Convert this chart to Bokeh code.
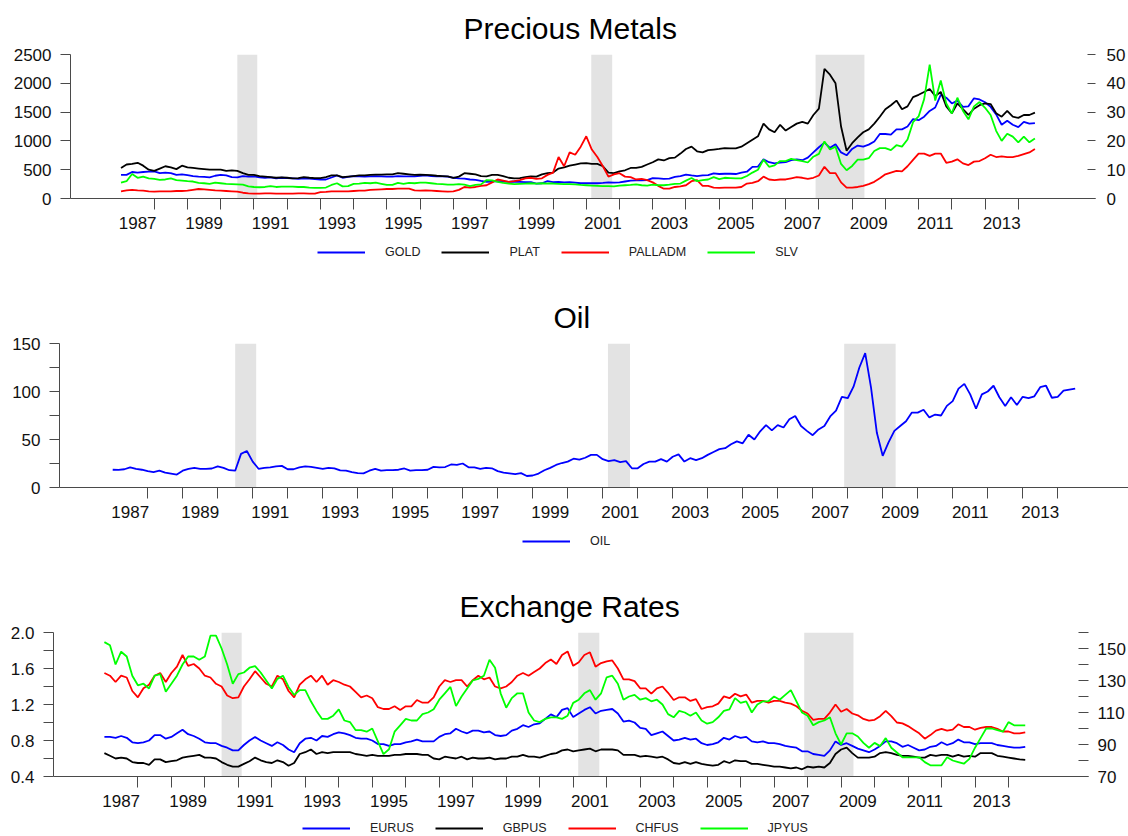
import numpy as np
from bokeh.plotting import figure
from bokeh.models import (Range1d, LinearAxis, FixedTicker, Legend, LegendItem,
                          BoxAnnotation, NumeralTickFormatter)
from bokeh.layouts import column
from bokeh.embed import file_html
from bokeh.resources import INLINE

# ---------------- data (bi-monthly: Jan, Mar, May, Jul, Sep, Nov; 1987 .. Jul 2014) ----------------
t = 1987 + np.arange(166) / 6.0

gold = [
    410, 410, 460, 450, 460, 465,   470, 440, 450, 440, 410, 420,   405, 390, 380, 375, 365, 395,
    410, 400, 370, 365, 390, 380,   385, 365, 360, 365, 350, 360,   355, 350, 340, 350, 345, 335,
    330, 330, 365, 400, 360, 375,   390, 385, 380, 385, 390, 385,   380, 380, 390, 385, 385, 385,
    395, 400, 390, 385, 385, 380,   360, 350, 345, 330, 325, 305,   290, 295, 300, 295, 290, 295,
    290, 285, 285, 260, 265, 300,   285, 290, 280, 285, 275, 265,   265, 265, 265, 270, 280, 275,
    280, 295, 310, 315, 315, 320,   355, 350, 340, 345, 375, 390,   415, 400, 390, 400, 405, 435,
    425, 430, 430, 425, 450, 465,   550, 555, 680, 630, 610, 625,   630, 665, 680, 665, 710, 800,
    890, 970, 880, 940, 800, 750,   860, 920, 900, 935, 990, 1120,  1120, 1110, 1200, 1200, 1250, 1380,
    1360, 1420, 1520, 1580, 1800, 1750,  1650, 1700, 1590, 1600, 1740, 1720,  1670, 1590, 1460, 1280, 1350, 1280,
    1240, 1330, 1300, 1310]

plat = [
    530, 590, 600, 620, 570, 500,   480, 520, 560, 540, 510, 570,   540, 530, 520, 510, 500, 500,
    500, 480, 490, 480, 440, 410,   410, 390, 380, 370, 360, 365,   360, 350, 355, 370, 360, 355,
    355, 370, 400, 400, 370, 380,   390, 400, 400, 410, 415, 415,   420, 420, 440, 430, 420, 410,
    415, 410, 405, 395, 390, 385,   360, 380, 440, 430, 420, 390,   385, 410, 410, 390, 360, 350,
    355, 370, 385, 380, 420, 440,   450, 520, 540, 570, 590, 610,   615, 600, 600, 560, 450, 440,
    470, 490, 530, 530, 550, 590,   630, 680, 660, 700, 710, 780,   860, 900, 820, 800, 840, 850,
    860, 875, 870, 870, 900, 960,   1020, 1080, 1300, 1200, 1150, 1280,  1180, 1240, 1300, 1330, 1300, 1450,
    1560, 2250, 2150, 2000, 1250, 830,   960, 1060, 1150, 1200, 1300, 1420,  1550, 1620, 1700, 1550, 1600, 1760,
    1800, 1850, 1900, 1780, 1850, 1600,  1480, 1650, 1550, 1450, 1560, 1620,  1650, 1640, 1480, 1420, 1520, 1420,
    1400, 1450, 1450, 1490]

palladm = [
    125, 140, 150, 140, 135, 125,   120, 125, 125, 125, 130, 130,   135, 150, 165, 160, 150, 140,
    135, 130, 125, 120, 100, 90,    85, 85, 90, 90, 85, 85,         85, 85, 90, 90, 85, 85,
    110, 115, 125, 125, 125, 125,   130, 135, 135, 150, 155, 160,   165, 165, 170, 170, 170, 140,
    135, 140, 135, 130, 125, 120,   125, 150, 200, 190, 200, 220,   230, 280, 330, 310, 290, 300,
    320, 350, 360, 340, 350, 410,   450, 720, 560, 800, 760, 900,   1080, 850, 720, 560, 380, 420,
    440, 380, 370, 330, 340, 320,   280, 220, 170, 170, 200, 210,   230, 300, 320, 220, 220, 190,
    185, 190, 190, 190, 200, 260,   270, 300, 380, 330, 320, 330,   330, 350, 370, 360, 340, 360,
    400, 550, 440, 440, 280, 190,   190, 200, 220, 250, 290, 350,   420, 450, 480, 470, 560, 670,
    780, 780, 740, 780, 780, 620,   640, 680, 610, 580, 640, 650,   700, 760, 720, 730, 720, 720,
    740, 770, 800, 860]

slv = [
    5.5, 6.0, 8.5, 7.2, 7.6, 7.0,   6.8, 6.5, 6.6, 7.0, 6.4, 6.2,   6.0, 5.9, 5.4, 5.3, 5.1, 5.5,
    5.3, 5.1, 5.0, 4.9, 4.8, 4.2,   4.0, 3.9, 4.0, 4.3, 4.0, 4.1,   4.1, 4.1, 4.0, 4.0, 3.8, 3.7,
    3.7, 3.8, 4.7, 5.3, 4.2, 4.3,   5.1, 5.2, 5.4, 5.3, 5.5, 5.1,   4.7, 4.7, 5.4, 5.1, 5.4, 5.3,
    5.5, 5.5, 5.3, 5.1, 5.0, 4.8,   4.8, 5.0, 4.8, 4.3, 4.7, 4.9,   6.4, 6.3, 5.8, 5.4, 5.2, 5.0,
    5.1, 5.2, 5.3, 5.2, 5.3, 5.2,   5.2, 5.1, 5.0, 5.0, 4.9, 4.7,   4.6, 4.5, 4.4, 4.3, 4.3, 4.2,
    4.5, 4.6, 4.7, 4.9, 4.6, 4.5,   4.8, 4.6, 4.6, 4.8, 5.1, 5.2,   6.2, 7.1, 6.0, 6.4, 6.6, 7.4,
    6.7, 7.2, 7.1, 7.0, 7.0, 7.8,   9.0, 10.0, 13.5, 11.0, 11.5, 13.0,  13.0, 13.8, 13.3, 13.0, 12.5, 14.5,
    15.5, 19.8, 17.0, 18.0, 12.0, 9.8,  11.3, 13.5, 13.5, 14.0, 16.5, 17.5,  17.5, 16.8, 18.5, 18.0, 20.5, 26.5,
    28.5, 34.5, 46.5, 34.0, 41.0, 33.0,  29.5, 35.0, 30.5, 27.5, 32.0, 33.5,  31.5, 29.0, 23.5, 20.0, 22.5, 21.5,
    19.5, 21.5, 19.5, 20.8]

oil = [
    18.5, 18.3, 19.0, 21.0, 19.5, 18.5,   17.0, 16.0, 17.5, 15.5, 14.5, 13.5,   17.5, 19.5, 20.5, 19.5, 19.5, 19.8,
    22.0, 20.5, 18.0, 17.5, 35.0, 38.0,   27.0, 19.5, 20.5, 21.0, 22.0, 22.5,   19.0, 19.0, 21.0, 22.0, 21.5, 20.5,
    19.5, 20.5, 20.0, 17.8, 17.5, 16.0,   15.0, 14.7, 17.5, 19.5, 17.5, 18.0,   18.0, 18.5, 19.8, 17.5, 18.0, 18.0,
    18.5, 21.5, 21.0, 21.3, 24.0, 23.5,   25.0, 21.0, 21.0, 19.5, 20.5, 20.0,   17.0, 15.5, 14.8, 14.0, 15.0, 12.0,
    12.5, 14.5, 18.0, 20.5, 23.5, 25.5,   27.0, 30.0, 29.0, 31.0, 34.0, 34.0,   29.5, 27.5, 28.5, 26.5, 27.5, 20.0,
    20.0, 24.5, 27.0, 27.0, 29.5, 27.0,   32.0, 34.5, 27.0, 30.5, 28.5, 30.5,   34.0, 37.0, 40.0, 41.0, 45.0, 48.0,
    46.0, 55.0, 50.0, 58.5, 65.0, 59.5,   65.0, 62.5, 71.0, 74.5, 64.0, 59.0,   54.5, 60.5, 64.0, 74.0, 80.0, 94.5,
    93.0, 105.0, 125.0, 140.0, 104.0, 57.0,  33.0, 47.0, 59.0, 64.0, 69.0, 78.0,  78.0, 81.0, 73.0, 76.0, 75.0, 85.0,
    90.0, 103.0, 108.0, 97.0, 82.0, 97.0,  100.0, 106.0, 94.0, 85.0, 94.0, 86.0,  94.5, 93.0, 95.0, 104.5, 106.0, 93.5,
    94.5, 101.0, 102.0, 103.0]

eurus = [
    0.84, 0.84, 0.83, 0.85, 0.83, 0.78,   0.77, 0.78, 0.80, 0.86, 0.86, 0.82,   0.84, 0.88, 0.92, 0.87, 0.85, 0.82,
    0.78, 0.77, 0.77, 0.74, 0.72, 0.69,   0.69, 0.75, 0.80, 0.84, 0.80, 0.77,   0.74, 0.78, 0.75, 0.70, 0.67, 0.77,
    0.82, 0.83, 0.80, 0.85, 0.84, 0.87,   0.89, 0.88, 0.86, 0.83, 0.82, 0.82,   0.80, 0.76, 0.76, 0.74, 0.76, 0.76,
    0.78, 0.79, 0.81, 0.79, 0.79, 0.79,   0.84, 0.87, 0.88, 0.93, 0.90, 0.88,   0.91, 0.91, 0.89, 0.90, 0.86, 0.85,
    0.86, 0.91, 0.93, 0.97, 0.95, 0.98,   0.99, 1.04, 1.09, 1.06, 1.14, 1.16,   1.06, 1.10, 1.14, 1.17, 1.10, 1.13,
    1.14, 1.15, 1.10, 1.01, 1.02, 1.00,   0.94, 0.93, 0.86, 0.88, 0.90, 0.85,   0.80, 0.81, 0.83, 0.81, 0.82, 0.77,
    0.75, 0.76, 0.78, 0.83, 0.81, 0.85,   0.83, 0.84, 0.79, 0.78, 0.79, 0.77,   0.77, 0.76, 0.74, 0.73, 0.72, 0.68,
    0.68, 0.65, 0.64, 0.63, 0.69, 0.79,   0.75, 0.77, 0.74, 0.71, 0.69, 0.67,   0.70, 0.74, 0.79, 0.79, 0.77, 0.73,
    0.75, 0.72, 0.69, 0.70, 0.73, 0.74,   0.78, 0.75, 0.77, 0.81, 0.78, 0.78,   0.76, 0.77, 0.77, 0.77, 0.75, 0.74,
    0.73, 0.72, 0.72, 0.73]

gbpus = [
    0.66, 0.63, 0.60, 0.61, 0.60, 0.56,   0.55, 0.55, 0.53, 0.59, 0.59, 0.56,   0.57, 0.58, 0.61, 0.62, 0.63, 0.64,
    0.61, 0.61, 0.60, 0.56, 0.53, 0.51,   0.51, 0.54, 0.57, 0.61, 0.58, 0.56,   0.55, 0.58, 0.56, 0.52, 0.55, 0.65,
    0.67, 0.70, 0.65, 0.67, 0.66, 0.67,   0.67, 0.67, 0.67, 0.65, 0.64, 0.63,   0.64, 0.63, 0.63, 0.63, 0.64, 0.64,
    0.65, 0.65, 0.65, 0.64, 0.64, 0.60,   0.59, 0.62, 0.61, 0.60, 0.62, 0.59,   0.61, 0.60, 0.60, 0.61, 0.59, 0.60,
    0.60, 0.62, 0.62, 0.64, 0.62, 0.62,   0.61, 0.63, 0.65, 0.66, 0.69, 0.70,   0.68, 0.69, 0.70, 0.71, 0.68, 0.70,
    0.70, 0.70, 0.69, 0.64, 0.64, 0.64,   0.62, 0.63, 0.62, 0.61, 0.62, 0.59,   0.55, 0.54, 0.56, 0.54, 0.56, 0.54,
    0.53, 0.52, 0.53, 0.57, 0.55, 0.58,   0.57, 0.57, 0.54, 0.54, 0.53, 0.52,   0.51, 0.51, 0.50, 0.49, 0.50, 0.48,
    0.51, 0.50, 0.51, 0.50, 0.55, 0.65,   0.70, 0.72, 0.66, 0.61, 0.61, 0.61,   0.62, 0.66, 0.67, 0.66, 0.64, 0.63,
    0.63, 0.62, 0.61, 0.61, 0.64, 0.63,   0.64, 0.64, 0.62, 0.64, 0.62, 0.63,   0.62, 0.66, 0.66, 0.66, 0.63, 0.62,
    0.61, 0.60, 0.59, 0.585]

chfus = [
    1.55, 1.52, 1.45, 1.52, 1.50, 1.35,   1.28, 1.38, 1.42, 1.52, 1.55, 1.45,   1.55, 1.62, 1.75, 1.63, 1.65, 1.60,
    1.52, 1.50, 1.43, 1.40, 1.30, 1.27,   1.28, 1.40, 1.48, 1.57, 1.50, 1.43,   1.40, 1.52, 1.48, 1.35, 1.28, 1.42,
    1.48, 1.52, 1.45, 1.52, 1.42, 1.47,   1.45, 1.42, 1.40, 1.34, 1.28, 1.30,   1.27, 1.17, 1.15, 1.15, 1.18, 1.14,
    1.18, 1.18, 1.25, 1.22, 1.22, 1.28,   1.40, 1.47, 1.45, 1.47, 1.47, 1.40,   1.47, 1.52, 1.48, 1.50, 1.40, 1.38,
    1.40, 1.45, 1.52, 1.55, 1.52, 1.56,   1.60, 1.66, 1.70, 1.65, 1.75, 1.79,   1.63, 1.67, 1.75, 1.78, 1.62, 1.66,
    1.68, 1.69, 1.60, 1.48, 1.48, 1.46,   1.38, 1.38, 1.32, 1.38, 1.40, 1.33,   1.25, 1.28, 1.28, 1.24, 1.26, 1.15,
    1.17, 1.18, 1.21, 1.29, 1.27, 1.32,   1.29, 1.31, 1.22, 1.24, 1.24, 1.22,   1.24, 1.24, 1.22, 1.21, 1.18, 1.13,
    1.10, 1.03, 1.04, 1.04, 1.11, 1.20,   1.12, 1.15, 1.10, 1.08, 1.04, 1.02,   1.03, 1.07, 1.13, 1.07, 1.00, 0.99,
    0.96, 0.92, 0.88, 0.82, 0.86, 0.91,   0.93, 0.91, 0.92, 0.98, 0.95, 0.95,   0.92, 0.94, 0.95, 0.95, 0.93, 0.90,
    0.90, 0.88, 0.88, 0.89]

jpyus = [
    154, 152, 140, 148, 145, 133,   127, 128, 125, 133, 134, 123,   128, 133, 140, 145, 145, 143,
    145, 158, 158, 150, 140, 128,   134, 135, 138, 139, 135, 130,   125, 131, 133, 126, 121, 124,
    124, 117, 111, 106, 106, 108,   112, 105, 104, 99, 99, 98,      100, 92, 84, 87, 98, 102,
    106, 105, 105, 109, 110, 112,   118, 122, 126, 114, 120, 125,   130, 131, 133, 143, 138, 122,
    113, 119, 122, 122, 110, 105,   104, 106, 107, 107, 106, 108,   116, 118, 122, 124, 118, 122,
    132, 133, 128, 118, 120, 121,   118, 119, 117, 118, 115, 109,   107, 111, 110, 108, 110, 105,
    103, 104, 107, 111, 112, 119,   116, 117, 110, 115, 117, 117,   120, 118, 121, 124, 117, 110,
    108, 102, 104, 105, 107, 97,    90, 97, 97, 95, 91, 88,         91, 89, 94, 88, 85, 82,
    82, 82, 82, 79, 77, 77,         77, 82, 80, 79, 78, 81,         88, 94, 100, 100, 99, 98,
    104, 102, 102, 102]

# recession shading (start, end in years)
rec_start = [1990.5, 2001.15, 2007.9]
rec_end = [1991.1, 2001.78, 2009.37]

# x-axis tick labels (every other year, centred on the year) and year boundaries
label_years = [1987, 1989, 1991, 1993, 1995, 1997, 1999, 2001, 2003, 2005, 2007, 2009, 2011, 2013]
year_bounds = list(range(1988, 2015))

FONT = "Liberation Sans"
AXC = "#4a4a4a"
TXT = "#111111"
BLUE, BLACK, RED, GREEN = "#0000ff", "#000000", "#ff0000", "#00ff00"
LW = 1.8


def no_align(p):
    # keep each figure's own frame position inside the column
    try:
        p.frame_align = False
    except Exception:
        pass


def make_panel(title, title_offset, y_range, x_end, min_left, min_right,
               left_ticks, left_minor, left_fmt=None):
    p = figure(width=1128, height=234, x_range=Range1d(1985.48, x_end), y_range=y_range,
               output_backend="svg", toolbar_location=None,
               min_border_left=min_left, min_border_right=min_right,
               min_border_top=54, min_border_bottom=36)
    no_align(p)
    p.outline_line_color = None
    p.xgrid.visible = False
    p.ygrid.visible = False
    p.background_fill_color = "white"
    p.border_fill_color = "white"

    p.title.text = title
    p.title.align = "left"
    p.title.vertical_align = "top"
    p.title.offset = title_offset
    p.title.standoff = 16
    p.title.text_font = FONT
    p.title.text_font_size = "30px"
    p.title.text_font_style = "normal"
    p.title.text_color = "#000000"

    xa = p.xaxis[0]
    pos = [y + 0.5 for y in label_years]
    xa.ticker = FixedTicker(ticks=pos, minor_ticks=year_bounds)
    xa.major_label_overrides = {q: str(y) for q, y in zip(pos, label_years)}
    xa.major_tick_in = 0
    xa.major_tick_out = 0
    xa.minor_tick_in = 0
    xa.minor_tick_out = 11
    xa.minor_tick_line_color = AXC
    xa.axis_line_color = AXC
    xa.major_label_standoff = 7
    xa.major_label_text_font = FONT
    xa.major_label_text_font_size = "17px"
    xa.major_label_text_color = TXT

    ya = p.yaxis[0]
    ya.ticker = FixedTicker(ticks=left_ticks, minor_ticks=left_minor)
    ya.major_tick_in = 0
    ya.major_tick_out = 10
    ya.minor_tick_in = 0
    ya.minor_tick_out = 10
    ya.major_tick_line_color = AXC
    ya.minor_tick_line_color = AXC
    ya.axis_line_color = AXC
    ya.major_label_standoff = 9
    ya.major_label_text_font = FONT
    ya.major_label_text_font_size = "17px"
    ya.major_label_text_color = TXT
    if left_fmt is not None:
        ya.formatter = left_fmt

    for s, e in zip(rec_start, rec_end):
        p.add_layout(BoxAnnotation(left=s, right=e, fill_color="#e3e3e3", fill_alpha=1.0,
                                   line_color=None, level="underlay"))
    return p


def right_axis(p, name, ticks, minor, tick_len, standoff):
    ax = LinearAxis(y_range_name=name, ticker=FixedTicker(ticks=ticks, minor_ticks=minor))
    ax.axis_line_color = None
    ax.major_tick_in = tick_len
    ax.major_tick_out = 0
    ax.minor_tick_in = tick_len
    ax.minor_tick_out = 0
    ax.major_tick_line_color = AXC
    ax.minor_tick_line_color = AXC
    ax.major_label_standoff = standoff
    ax.major_label_text_font = FONT
    ax.major_label_text_font_size = "17px"
    ax.major_label_text_color = TXT
    p.add_layout(ax, "right")


def legend_strip(height, labels, series, colors, loc):
    """A thin strip under a panel that carries that panel's legend (its view window
    is empty, so the series lines it holds for the legend keys fall outside it)."""
    lf = figure(width=1128, height=height, x_range=Range1d(0, 1), y_range=Range1d(0, 1),
                output_backend="svg", toolbar_location=None,
                x_axis_type=None, y_axis_type=None, min_border=0)
    no_align(lf)
    lf.outline_line_color = None
    lf.xgrid.visible = False
    lf.ygrid.visible = False
    lf.background_fill_color = "white"
    lf.border_fill_color = "white"
    items = []
    for lab, ser, col in zip(labels, series, colors):
        r = lf.line(t, ser, line_color=col, line_width=LW)
        items.append(LegendItem(label=lab, renderers=[r]))
    lg = Legend(items=items, orientation="horizontal", location=loc,
                glyph_width=48, glyph_height=14, label_standoff=20, spacing=21,
                padding=0, margin=0, label_height=14,
                label_text_font=FONT, label_text_font_size="12.5px", label_text_color="#222222",
                border_line_color=None, background_fill_alpha=0)
    lf.add_layout(lg, "center")
    return lf


# ---------------- Panel 1: Precious Metals ----------------
p1 = make_panel("Precious Metals", 393, Range1d(0, 2500), 1985.48 + 1028 / 33.33,
                70, 30, [0, 500, 1000, 1500, 2000, 2500], [])
p1.extra_y_ranges = {"slv": Range1d(0, 50)}
right_axis(p1, "slv", [0, 10, 20, 30, 40, 50], [], 8, 11)
p1.line(t, gold, line_color=BLUE, line_width=LW)
p1.line(t, plat, line_color=BLACK, line_width=LW)
p1.line(t, palladm, line_color=RED, line_width=LW)
p1.line(t, slv, line_color=GREEN, line_width=LW, y_range_name="slv")
l1 = legend_strip(55, ["GOLD", "PLAT", "PALLADM", "SLV"], [gold, plat, palladm, slv],
                  [BLUE, BLACK, RED, GREEN], (317, 30))

# ---------------- Panel 2: Oil ----------------
p2 = make_panel("Oil", 494, Range1d(0, 150), 1985.48 + 1069 / 35.0,
                59, 0, [0, 50, 100, 150], [25, 75, 125])
p2.line(t, oil, line_color=BLUE, line_width=LW)
l2 = legend_strip(55, ["OIL"], [oil], [BLUE], (522, 30))

# ---------------- Panel 3: Exchange Rates ----------------
p3 = make_panel("Exchange Rates", 406, Range1d(0.4, 2.0), 1985.48 + 1037 / 33.55,
                53, 38, [0.4, 0.8, 1.2, 1.6, 2.0], [0.6, 1.0, 1.4, 1.8],
                NumeralTickFormatter(format="0.0"))
p3.extra_y_ranges = {"jpy": Range1d(70, 160)}
right_axis(p3, "jpy", [70, 90, 110, 130, 150], [80, 100, 120, 140, 160], 10, 9)
p3.line(t, eurus, line_color=BLUE, line_width=LW)
p3.line(t, gbpus, line_color=BLACK, line_width=LW)
p3.line(t, chfus, line_color=RED, line_width=LW)
p3.line(t, jpyus, line_color=GREEN, line_width=LW, y_range_name="jpy")
l3 = legend_strip(24, ["EURUS", "GBPUS", "CHFUS", "JPYUS"], [eurus, gbpus, chfus, jpyus],
                  [BLUE, BLACK, RED, GREEN], (302, 1))

layout = column(p1, l1, p2, l2, p3, l3, spacing=0)
open("out.html", "w").write(file_html(layout, INLINE))
